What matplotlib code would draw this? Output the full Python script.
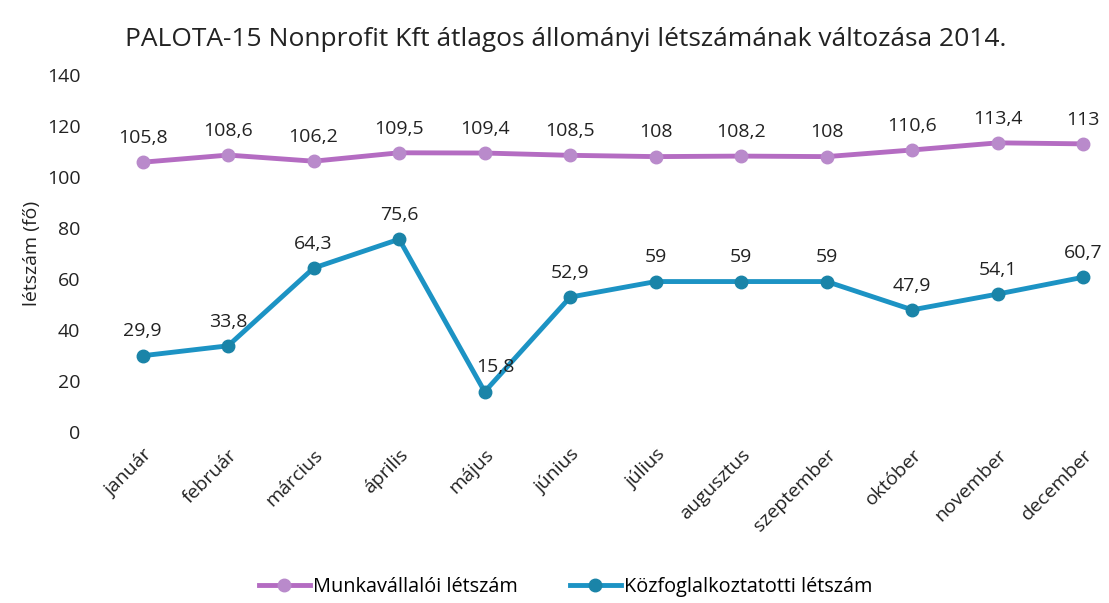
import matplotlib.pyplot as plt

plt.rcParams['font.family'] = ['Open Sans', 'DejaVu Sans']

honapok = ["január", "február", "március", "április", "május", "június",
           "július", "augusztus", "szeptember", "október", "november", "december"]
munkavallaloi = [105.8, 108.6, 106.2, 109.5, 109.4, 108.5, 108, 108.2, 108, 110.6, 113.4, 113]
kozfoglalkoztatotti = [29.9, 33.8, 64.3, 75.6, 15.8, 52.9, 59, 59, 59, 47.9, 54.1, 60.7]


def fmt(v):
    s = f"{v:.1f}".replace(".", ",")
    return s[:-2] if s.endswith(",0") else s


fig = plt.figure(figsize=(11.09, 6.03), dpi=100)
ax = fig.add_axes([0.09, 0.2836, 0.91, 0.592])

x = list(range(len(honapok)))
ax.plot(x, munkavallaloi, color="#B46CC2", lw=3.5, marker="o", ms=9,
        mfc="#B98ACB", mec="#B98ACB", label="Munkavállalói létszám")
ax.plot(x, kozfoglalkoztatotti, color="#1C93C4", lw=3.5, marker="o", ms=9,
        mfc="#1A84A8", mec="#1A84A8", label="Közfoglalkoztatotti létszám")

for i, v in enumerate(munkavallaloi):
    ax.annotate(fmt(v), (i, v), xytext=(0, 11), textcoords="offset points",
                ha="center", va="bottom", fontsize=14, color="#222222")
for i, v in enumerate(kozfoglalkoztatotti):
    dx = 8 if i == 4 else 0
    ax.annotate(fmt(v), (i, v), xytext=(dx, 11), textcoords="offset points",
                ha="center", va="bottom", fontsize=14, color="#222222")

ax.set_xlim(-0.5, 11.3)
ax.set_ylim(0, 140)
ax.set_yticks(range(0, 141, 20))
ax.set_xticks(x)
ax.set_xticklabels(honapok, rotation=45, ha="right", rotation_mode="anchor")
ax.tick_params(axis="both", length=0, labelsize=14, colors="#222222")
ax.tick_params(axis="x", pad=10)
ax.tick_params(axis="y", pad=14)
for s in ax.spines.values():
    s.set_visible(False)

ax.set_ylabel("létszám (fő)", fontsize=14, color="#222222", labelpad=4)
fig.text(0.51, 0.935, "PALOTA-15 Nonprofit Kft átlagos állományi létszámának változása 2014.",
         ha="center", va="center", fontsize=19, color="#222222")

fig.legend(loc="center", bbox_to_anchor=(0.51, 0.026), ncol=2, frameon=False,
           fontsize=14.3, handlelength=2.6, columnspacing=2.6, handletextpad=0.15)

fig.savefig("out.png", dpi=100)
